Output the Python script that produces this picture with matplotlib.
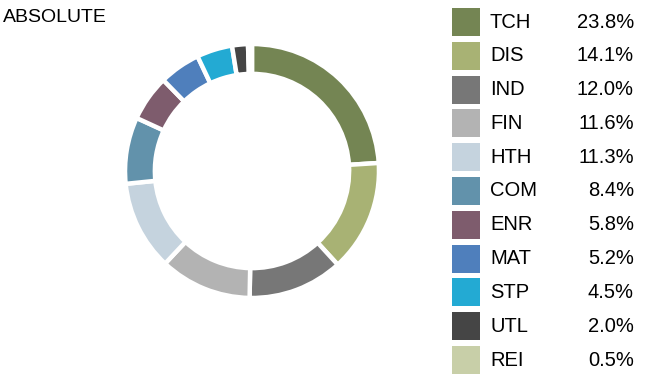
import matplotlib
matplotlib.use("Agg")
import matplotlib.pyplot as plt
from matplotlib.patches import Rectangle

plt.rcParams['font.family'] = ['Liberation Sans', 'DejaVu Sans']

sectors = ["TCH", "DIS", "IND", "FIN", "HTH", "COM", "ENR", "MAT", "STP", "UTL", "REI"]
weights = [23.8, 14.1, 12.0, 11.6, 11.3, 8.4, 5.8, 5.2, 4.5, 2.0, 0.5]
colors = ["#748553", "#A8B274", "#777777", "#B3B3B3", "#C5D3DE", "#6292AB",
          "#7E5C6D", "#4F7FBC", "#23AAD3", "#454545", "#C8CFA8"]

W, H = 647, 388
fig = plt.figure(figsize=(W / 100, H / 100), dpi=100)

cx, cy, r = 252, 388 - 171, 127
ax = fig.add_axes([(cx - r - 2) / W, (cy - r - 2) / H, (2 * r + 4) / W, (2 * r + 4) / H])
ax.pie(weights, colors=colors, startangle=90, counterclock=False, radius=1.0,
       wedgeprops=dict(width=0.235, edgecolor="white", linewidth=3.2))
ax.set_xlim(-1.016, 1.016)
ax.set_ylim(-1.016, 1.016)
ax.set_aspect("equal")
ax.axis("off")

fig.text(3 / W, 1 - 18 / H, "ABSOLUTE", fontsize=14, va="center", ha="left")

row0, step = 22, 33.8
for i, (s, w, c) in enumerate(zip(sectors, weights, colors)):
    yc = H - (row0 + i * step)
    fig.patches.append(Rectangle((452 / W, (yc - 14) / H), 28 / W, 28 / H,
                                 transform=fig.transFigure, facecolor=c, edgecolor="none"))
    fig.text(490 / W, yc / H, s, fontsize=14.5, va="center", ha="left")
    fig.text(634 / W, yc / H, f"{w:.1f}%", fontsize=14.5, va="center", ha="right")

fig.savefig("out.png", dpi=100)
